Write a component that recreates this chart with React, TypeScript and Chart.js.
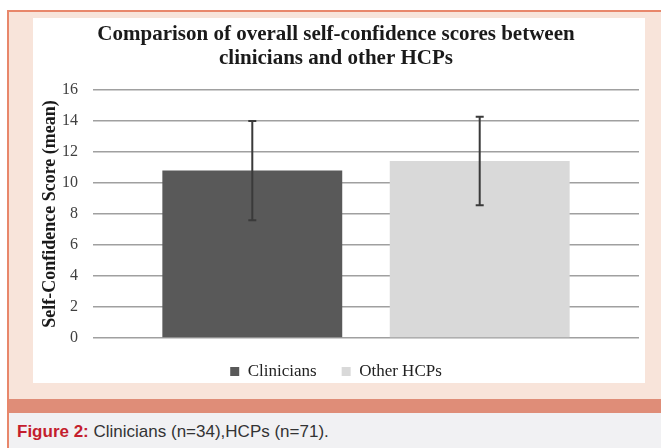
import React, { useEffect, useRef } from "react";
import { Chart, registerables } from "chart.js";

Chart.register(...registerables);

const categories = ["Score"];
const seriesNames = ["Clinicians", "Other HCPs"];
const meanValues = [10.8, 11.42];
const sdValues = [3.2, 2.85];
const seriesColors = ["#595959", "#d9d9d9"];
const yTicks = [0, 2, 4, 6, 8, 10, 12, 14, 16];
const titleLines = ["Comparison of overall self-confidence scores between", "clinicians and other HCPs"];
const yTitle = "Self-Confidence Score (mean)";

const SERIF = "'Liberation Serif', 'Times New Roman', serif";

const errorBarPlugin = {
  id: "errorBars",
  afterDatasetsDraw(chart: any) {
    const ctx = chart.ctx;
    const yScale = chart.scales.y;
    ctx.save();
    ctx.strokeStyle = "#3a3a3a";
    ctx.lineWidth = 2;
    chart.data.datasets.forEach((ds: any, i: number) => {
      const meta = chart.getDatasetMeta(i);
      meta.data.forEach((el: any, j: number) => {
        const m = ds.data[j];
        const sd = ds.sd[j];
        const x = el.x;
        const yTop = yScale.getPixelForValue(m + sd);
        const yBot = yScale.getPixelForValue(m - sd);
        ctx.beginPath();
        ctx.moveTo(x, yTop);
        ctx.lineTo(x, yBot);
        ctx.moveTo(x - 4, yTop);
        ctx.lineTo(x + 4, yTop);
        ctx.moveTo(x - 4, yBot);
        ctx.lineTo(x + 4, yBot);
        ctx.stroke();
      });
    });
    ctx.restore();
  },
};

function BarChart() {
  const ref = useRef<HTMLCanvasElement | null>(null);
  useEffect(() => {
    if (!ref.current) return;
    const chart = new Chart(ref.current, {
      type: "bar",
      data: {
        labels: categories,
        datasets: seriesNames.map((name, i) => ({
          label: name,
          data: [meanValues[i]],
          sd: [sdValues[i]],
          backgroundColor: seriesColors[i],
          borderWidth: 0,
          categoryPercentage: 0.833,
          barPercentage: 0.791,
        })) as any,
      },
      options: {
        animation: false,
        responsive: false,
        maintainAspectRatio: false,
        layout: { padding: { top: 5, right: 6, bottom: 8, left: 0 } },
        plugins: {
          title: {
            display: true,
            text: titleLines,
            color: "#1a1a1a",
            font: { family: SERIF, size: 21, weight: "bold", lineHeight: "24px" },
            padding: { top: 0, bottom: 19 },
          },
          legend: {
            display: true,
            position: "bottom",
            labels: {
              boxWidth: 9,
              boxHeight: 9,
              color: "#222",
              padding: 25,
              font: { family: SERIF, size: 17 },
            },
          },
          tooltip: { enabled: false },
        },
        scales: {
          x: { display: false },
          y: {
            min: 0,
            max: 16,
            afterBuildTicks(scale: any) {
              scale.ticks = yTicks.map((v) => ({ value: v }));
            },
            afterFit(scale: any) {
              scale.width = 60;
            },
            border: { display: false },
            grid: { color: "#a0a0a0", lineWidth: 1.5, drawTicks: false },
            ticks: {
              color: "#404040",
              padding: 15,
              font: { family: SERIF, size: 16 },
            },
            title: {
              display: true,
              text: yTitle,
              color: "#1a1a1a",
              font: { family: SERIF, size: 18, weight: "bold" },
              padding: { top: 7, bottom: 0 },
            },
          },
        },
      },
      plugins: [errorBarPlugin],
    });
    return () => chart.destroy();
  }, []);
  return <canvas ref={ref} width={612} height={380} style={{ display: "block", width: 612, height: 380 }} />;
}

export default function App() {
  return (
    <div style={{ position: "fixed", left: 0, top: 0, width: 661, height: 448, background: "#ffffff", overflow: "hidden" }}>
      <div
        style={{
          position: "absolute",
          left: 7,
          top: 10,
          width: 654,
          height: 438,
          background: "#f8e4da",
          borderTop: "2px solid #e8876b",
          borderLeft: "2px solid #e8876b",
          boxSizing: "border-box",
        }}
      />
      <div style={{ position: "absolute", left: 33, top: 18, width: 612, height: 365, background: "#ffffff" }} />
      <div style={{ position: "absolute", left: 33, top: 18, width: 612, height: 380 }}>
        <BarChart />
      </div>
      <div style={{ position: "absolute", left: 9, top: 399, width: 652, height: 14, background: "#df8d78" }} />
      <div style={{ position: "absolute", left: 9, top: 413, width: 652, height: 35, background: "#f1f1f3" }} />
      <div
        style={{
          position: "absolute",
          left: 17,
          top: 422,
          fontFamily: "'Liberation Sans', Arial, sans-serif",
          fontSize: 17,
          lineHeight: "20px",
          color: "#333",
          whiteSpace: "nowrap",
        }}
      >
        <span style={{ color: "#c41e2e", fontWeight: "bold" }}>Figure 2:</span> Clinicians (n=34),HCPs (n=71).
      </div>
    </div>
  );
}
